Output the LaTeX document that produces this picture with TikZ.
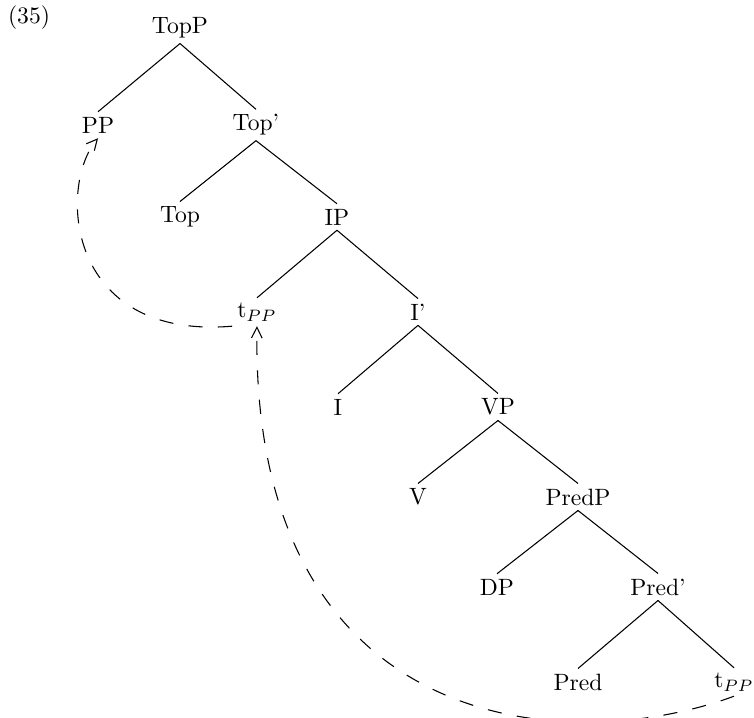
\documentclass[tikz,border=0pt]{standalone}
\usetikzlibrary{arrows.meta}
\begin{document}
\begin{tikzpicture}[x=0.4237pt,y=-0.4237pt,
  cat/.style={inner sep=2pt},
  branch/.style={line width=0.45pt},
  movement/.style={dash pattern=on 6pt off 6.5pt,line width=0.45pt,
    -{Straight Barb[length=4.5pt,width=4.5pt]}}]
\useasboundingbox (0,0) rectangle (754,718);
% example number
\node[cat] (num) at (29,18) {(35)};
% tree nodes
\node[cat] (topp)  at (180,28)  {TopP};
\node[cat] (pp)    at (98,125)  {PP};
\node[cat] (topb)  at (256,125) {Top'};
\node[cat] (top)   at (180,217) {Top};
\node[cat] (ip)    at (337,217) {IP};
\node[cat] (t1)    at (257,312) {t$_{PP}$};
\node[cat] (ib)    at (418,312) {I'};
\node[cat] (i)     at (338,407) {I};
\node[cat] (vp)    at (498,407) {VP};
\node[cat] (v)     at (418,497) {V};
\node[cat] (predp) at (578,497) {PredP};
\node[cat] (dp)    at (497,587) {DP};
\node[cat] (predb) at (658,587) {Pred'};
\node[cat] (pred)  at (578,682) {Pred};
\node[cat] (t2)    at (734,682) {t$_{PP}$};
% branches
\draw[branch] (topp.south) -- (pp.north);
\draw[branch] (topp.south) -- (topb.north);
\draw[branch] (topb.south) -- (top.north);
\draw[branch] (topb.south) -- (ip.north);
\draw[branch] (ip.south) -- (t1.north);
\draw[branch] (ip.south) -- (ib.north);
\draw[branch] (ib.south) -- (i.north);
\draw[branch] (ib.south) -- (vp.north);
\draw[branch] (vp.south) -- (v.north);
\draw[branch] (vp.south) -- (predp.north);
\draw[branch] (predp.south) -- (dp.north);
\draw[branch] (predp.south) -- (predb.north);
\draw[branch] (predb.south) -- (pred.north);
\draw[branch] (predb.south) -- (t2.north);
% movement paths
\draw[movement] (t1.south west) .. controls (65,340) and (58,185) .. (pp.south);
\draw[movement] (t2.south) .. controls (560,760) and (250,730) .. (t1.south);
\end{tikzpicture}
\end{document}
